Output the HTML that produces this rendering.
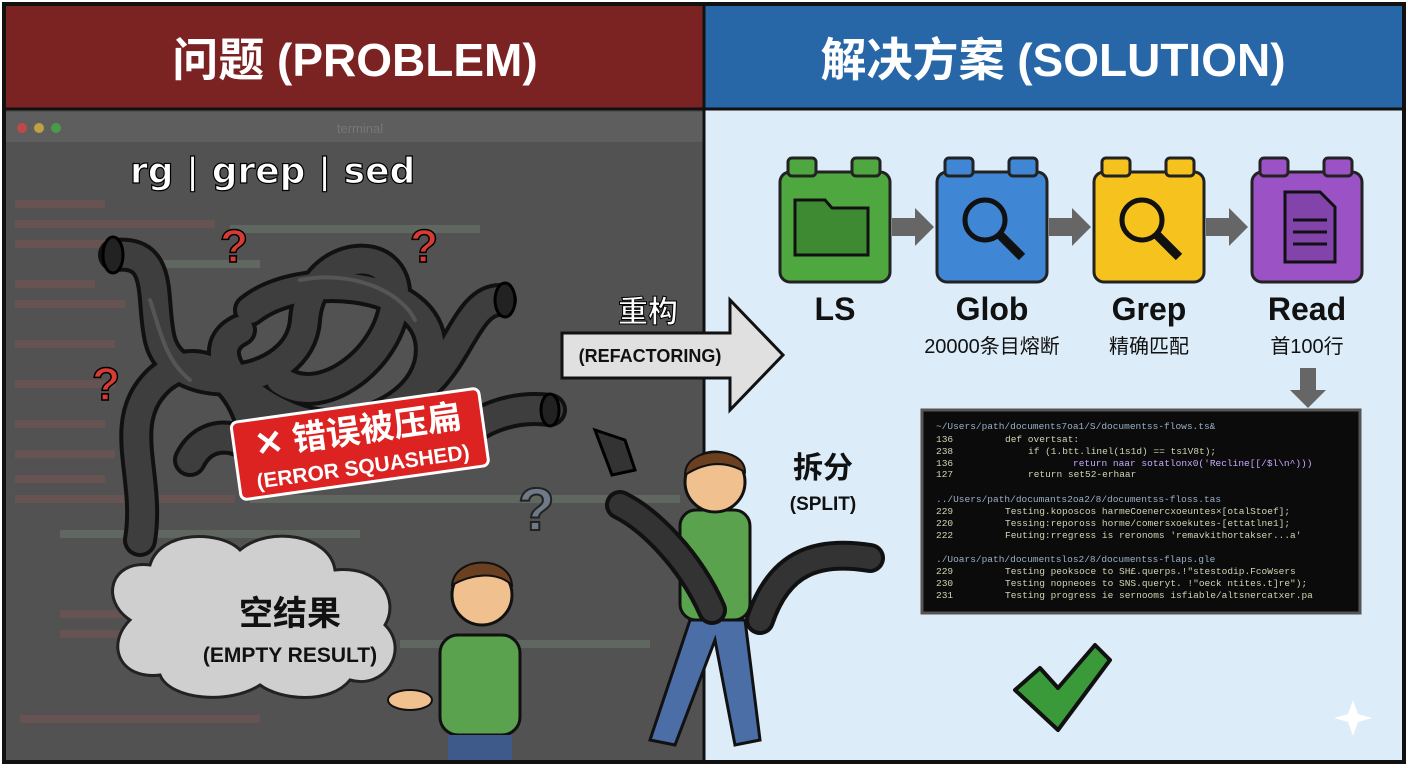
<!DOCTYPE html>
<html><head><meta charset="utf-8"><style>
body{margin:0;width:1408px;height:768px;overflow:hidden;background:#fff;font-family:"Liberation Sans","Noto Sans CJK SC",sans-serif}
svg{display:block}
</style></head><body>
<svg width="1408" height="768" viewBox="0 0 1408 768" font-family="Liberation Sans, Noto Sans CJK SC, sans-serif">
<rect x="0" y="0" width="1408" height="768" fill="#fff"/>
<rect x="5" y="5" width="699" height="104" fill="#7b2222"/>
<rect x="704" y="5" width="699" height="104" fill="#2767a8"/>
<text x="355" y="76" text-anchor="middle" font-size="46" font-weight="bold" fill="#fff">问题 (PROBLEM)</text>
<text x="1053" y="76" text-anchor="middle" font-size="46" font-weight="bold" fill="#fff">解决方案 (SOLUTION)</text>
<!-- left panel -->
<rect x="5" y="109" width="699" height="652" fill="#525252"/>
<rect x="5" y="112" width="699" height="30" fill="#5e5e5e"/>
<circle cx="22" cy="128" r="5" fill="#c04848"/><circle cx="39" cy="128" r="5" fill="#c0a040"/><circle cx="56" cy="128" r="5" fill="#4a9a4a"/>
<text x="360" y="133" font-size="13" fill="#777" text-anchor="middle">terminal</text>
<g fill="#725454" opacity="0.7">
<rect x="15" y="200" width="90" height="8"/><rect x="15" y="220" width="200" height="8"/><rect x="15" y="240" width="120" height="8"/><rect x="15" y="280" width="80" height="8"/><rect x="15" y="300" width="110" height="8"/><rect x="15" y="340" width="100" height="8"/><rect x="15" y="380" width="100" height="8"/><rect x="15" y="420" width="90" height="8"/><rect x="15" y="450" width="100" height="8"/><rect x="15" y="475" width="90" height="8"/><rect x="15" y="495" width="220" height="8"/><rect x="60" y="610" width="90" height="8"/><rect x="60" y="630" width="80" height="8"/><rect x="20" y="715" width="240" height="8"/>
</g>
<g fill="#667066" opacity="0.7"><rect x="230" y="225" width="250" height="8"/><rect x="110" y="260" width="150" height="8"/><rect x="250" y="495" width="430" height="8"/><rect x="400" y="640" width="250" height="8"/><rect x="60" y="530" width="300" height="8"/></g>
<text x="130" y="183" font-size="36" font-weight="bold" fill="#fff" stroke="#000" stroke-width="1.2" font-family="DejaVu Sans, sans-serif">rg | grep | sed</text>
<!-- pipes -->
<g fill="none" stroke-linecap="round" stroke-linejoin="round">
<g stroke="#111" stroke-width="34">
<path d="M115 255 C165 250 150 300 160 340 C175 400 300 390 305 320 C310 250 400 240 395 300 C390 360 320 410 280 380"/>
<path d="M250 310 C300 270 420 280 430 340 C440 400 360 440 300 420 C240 400 200 350 240 330"/>
<path d="M140 540 C150 480 120 430 150 390 C180 350 230 360 250 420"/>
<path d="M500 300 C470 300 460 350 430 380 C400 410 340 440 330 470"/>
<path d="M550 410 C510 405 480 420 455 440"/>
<path d="M190 460 C210 420 260 440 270 470"/>
</g>
<g stroke="#3e3e3e" stroke-width="26">
<path d="M115 255 C165 250 150 300 160 340 C175 400 300 390 305 320 C310 250 400 240 395 300 C390 360 320 410 280 380"/>
<path d="M250 310 C300 270 420 280 430 340 C440 400 360 440 300 420 C240 400 200 350 240 330"/>
<path d="M140 540 C150 480 120 430 150 390 C180 350 230 360 250 420"/>
<path d="M500 300 C470 300 460 350 430 380 C400 410 340 440 330 470"/>
<path d="M550 410 C510 405 480 420 455 440"/>
<path d="M190 460 C210 420 260 440 270 470"/>
</g>
<g stroke="#666" stroke-width="4" opacity="0.6">
<path d="M150 300 C160 330 165 360 190 380"/><path d="M300 280 C350 270 400 290 415 320"/></g>
</g>
<ellipse cx="113" cy="255" rx="10" ry="18" fill="#222" stroke="#000" stroke-width="3"/>
<ellipse cx="505" cy="300" rx="10" ry="17" fill="#222" stroke="#000" stroke-width="3"/>
<ellipse cx="550" cy="410" rx="9" ry="16" fill="#222" stroke="#000" stroke-width="3"/>
<path d="M595 430 L625 440 L635 470 L612 475 Z" fill="#333" stroke="#000" stroke-width="3"/>
<g font-size="46" font-weight="bold" fill="#d83a34" stroke="#000" stroke-width="1.5">
<text x="220" y="262">?</text><text x="410" y="262">?</text><text x="92" y="400">?</text></g>
<text x="518" y="530" font-size="60" font-weight="bold" fill="#6e7a88" stroke="#222" stroke-width="2">?</text>
<g transform="rotate(-8 360 445)">
<rect x="235" y="405" width="250" height="78" rx="6" fill="#dd2222" stroke="#fff" stroke-width="3"/>
<text x="360" y="442" text-anchor="middle" font-size="34" font-weight="bold" fill="#fff">✕ 错误被压扁</text>
<text x="360" y="474" text-anchor="middle" font-size="21" font-weight="bold" fill="#fff">(ERROR SQUASHED)</text>
</g>
<g fill="#cfcfcf" stroke="#222" stroke-width="3">
<path d="M130 620 C100 600 110 560 150 565 C160 530 220 530 240 550 C270 525 330 535 335 570 C380 565 400 600 385 625 C410 650 385 690 350 680 C330 705 280 700 260 685 C230 705 170 700 160 675 C120 680 105 645 130 620 Z"/>
</g>
<text x="290" y="625" text-anchor="middle" font-size="34" font-weight="bold" fill="#111">空结果</text>
<text x="290" y="662" text-anchor="middle" font-size="21" font-weight="bold" fill="#111">(EMPTY RESULT)</text>
<rect x="440" y="635" width="80" height="100" rx="18" fill="#5aa24d" stroke="#111" stroke-width="3"/>
<rect x="448" y="735" width="64" height="26" fill="#3d5a8a"/>
<circle cx="482" cy="595" r="30" fill="#f0c08e" stroke="#111" stroke-width="3"/>
<path d="M452 585 C455 555 510 555 512 585 C495 570 470 575 452 585Z" fill="#6a4020" stroke="#111" stroke-width="2"/>
<ellipse cx="410" cy="700" rx="22" ry="10" fill="#f0c08e" stroke="#111" stroke-width="2"/>
<!-- right panel -->
<rect x="704" y="109" width="699" height="652" fill="#dcecf8"/>
<line x1="704" y1="5" x2="704" y2="761" stroke="#111" stroke-width="3"/>
<!-- refactoring arrow (over both panels) -->
<text x="648" y="322" text-anchor="middle" font-size="30" font-weight="bold" fill="#fff" stroke="#000" stroke-width="1">重构</text>
<path d="M562 333 L730 333 L730 300 L783 355 L730 410 L730 378 L562 378 Z" fill="#e0e0e0" stroke="#111" stroke-width="3"/>
<text x="650" y="362" text-anchor="middle" font-size="18" font-weight="bold" fill="#111">(REFACTORING)</text>
<g stroke="#222" stroke-width="3">
<rect x="780" y="172" width="110" height="110" rx="10" fill="#4fa83f"/><rect x="788" y="158" width="28" height="18" rx="4" fill="#4fa83f"/><rect x="852" y="158" width="28" height="18" rx="4" fill="#4fa83f"/>
<rect x="937" y="172" width="110" height="110" rx="10" fill="#3f86d4"/><rect x="945" y="158" width="28" height="18" rx="4" fill="#3f86d4"/><rect x="1009" y="158" width="28" height="18" rx="4" fill="#3f86d4"/>
<rect x="1094" y="172" width="110" height="110" rx="10" fill="#f5c21e"/><rect x="1102" y="158" width="28" height="18" rx="4" fill="#f5c21e"/><rect x="1166" y="158" width="28" height="18" rx="4" fill="#f5c21e"/>
<rect x="1252" y="172" width="110" height="110" rx="10" fill="#9a52c4"/><rect x="1260" y="158" width="28" height="18" rx="4" fill="#9a52c4"/><rect x="1324" y="158" width="28" height="18" rx="4" fill="#9a52c4"/>
</g>
<path d="M795 200 L825 200 L832 208 L868 208 L868 255 L795 255 Z" fill="#3d8a32" stroke="#111" stroke-width="3"/>
<g fill="none" stroke="#111" stroke-width="5"><circle cx="985" cy="220" r="20"/><line x1="1000" y1="235" x2="1022" y2="257" stroke-width="9"/>
<circle cx="1142" cy="220" r="20"/><line x1="1157" y1="235" x2="1179" y2="257" stroke-width="9"/></g>
<path d="M1285 192 L1320 192 L1335 207 L1335 262 L1285 262 Z" fill="#8244aa" stroke="#111" stroke-width="3"/>
<g stroke="#111" stroke-width="3"><line x1="1293" y1="220" x2="1327" y2="220"/><line x1="1293" y1="232" x2="1327" y2="232"/><line x1="1293" y1="244" x2="1327" y2="244"/></g>
<g fill="#666"><path d="M892 218 L915 218 L915 208 L934 227 L915 246 L915 236 L892 236Z"/><path d="M1049 218 L1072 218 L1072 208 L1091 227 L1072 246 L1072 236 L1049 236Z"/><path d="M1206 218 L1229 218 L1229 208 L1248 227 L1229 246 L1229 236 L1206 236Z"/>
<path d="M1300 368 L1316 368 L1316 390 L1326 390 L1308 408 L1290 390 L1300 390Z"/></g>
<g font-weight="bold" font-size="32" fill="#111" text-anchor="middle">
<text x="835" y="320">LS</text><text x="992" y="320">Glob</text><text x="1149" y="320">Grep</text><text x="1307" y="320">Read</text></g>
<g font-size="20" fill="#111" text-anchor="middle">
<text x="992" y="353">20000条目熔断</text><text x="1149" y="353">精确匹配</text><text x="1307" y="353">首100行</text></g>
<rect x="922" y="410" width="438" height="203" fill="#0b0b0b" stroke="#555" stroke-width="3"/>
<g font-family="Liberation Mono, monospace" font-size="9.5" fill="#cfd6b4">
<text x="936" y="429" fill="#9ab0c8">~/Users/path/documents7oa1/S/documentss-flows.ts&amp;</text>
<text x="936" y="442">136</text><text x="1005" y="442">def overtsat:</text>
<text x="936" y="454">238</text><text x="1028" y="454">if (1.btt.linel(1s1d) == ts1V8t);</text>
<text x="936" y="466">136</text><text x="1073" y="466" fill="#c9a8ff">return naar sotatlonx0('Recline[[/$l\n^)))</text>
<text x="936" y="477">127</text><text x="1028" y="477">return set52-erhaar</text>
<text x="936" y="502" fill="#9ab0c8">../Users/path/documants2oa2/8/documentss-floss.tas</text>
<text x="936" y="514">229</text><text x="1005" y="514">Testing.koposcos harmeCoenercxoeuntes×[otalStoef];</text>
<text x="936" y="526">220</text><text x="1005" y="526">Tessing:repoross horme/comersxoekutes-[ettatlne1];</text>
<text x="936" y="538">222</text><text x="1005" y="538">Feuting:rregress is reronoms 'remavkithortakser...a'</text>
<text x="936" y="562" fill="#9ab0c8">./Uoars/path/documentslos2/8/documentss-flaps.gle</text>
<text x="936" y="574">229</text><text x="1005" y="574">Testing peoksoce to SH£.querps.!"stestodip.FcoWsers</text>
<text x="936" y="586">230</text><text x="1005" y="586">Testing nopneoes to SNS.queryt. !"oeck ntites.t]re");</text>
<text x="936" y="598">231</text><text x="1005" y="598">Testing progress ie sernooms isfiable/altsnercatxer.pa</text>
</g>
<text x="823" y="478" text-anchor="middle" font-size="30" font-weight="bold" fill="#111">拆分</text>
<text x="823" y="510" text-anchor="middle" font-size="19" font-weight="bold" fill="#111">(SPLIT)</text>
<rect x="680" y="510" width="70" height="110" rx="16" fill="#5aa24d" stroke="#111" stroke-width="3"/>
<path d="M690 620 L650 740 L675 745 L715 640 L735 745 L760 740 L745 620Z" fill="#4a6ea5" stroke="#111" stroke-width="3"/>
<circle cx="715" cy="482" r="30" fill="#f0c08e" stroke="#111" stroke-width="3"/>
<path d="M685 475 C685 445 745 445 745 472 C725 460 705 462 685 475Z" fill="#6a4020" stroke="#111" stroke-width="2"/>
<g fill="none" stroke-linecap="round"><path d="M620 505 C650 520 690 560 712 610" stroke="#111" stroke-width="30"/><path d="M620 505 C650 520 690 560 712 610" stroke="#333" stroke-width="22"/>
<path d="M760 620 C780 560 820 550 870 558" stroke="#111" stroke-width="30"/><path d="M760 620 C780 560 820 550 870 558" stroke="#333" stroke-width="22"/></g>
<path d="M1015 690 L1040 668 L1058 688 L1095 645 L1110 660 L1058 730 Z" fill="#3a9a3a" stroke="#111" stroke-width="4" stroke-linejoin="round"/>
<path d="M1353 700 L1358 714 L1372 718 L1358 722 L1353 736 L1348 722 L1334 718 L1348 714Z" fill="#fff"/>
<rect x="4" y="4" width="1400" height="758" fill="none" stroke="#111" stroke-width="4"/>
<line x1="4" y1="109" x2="1404" y2="109" stroke="#111" stroke-width="3"/>
</svg>
</body></html>
